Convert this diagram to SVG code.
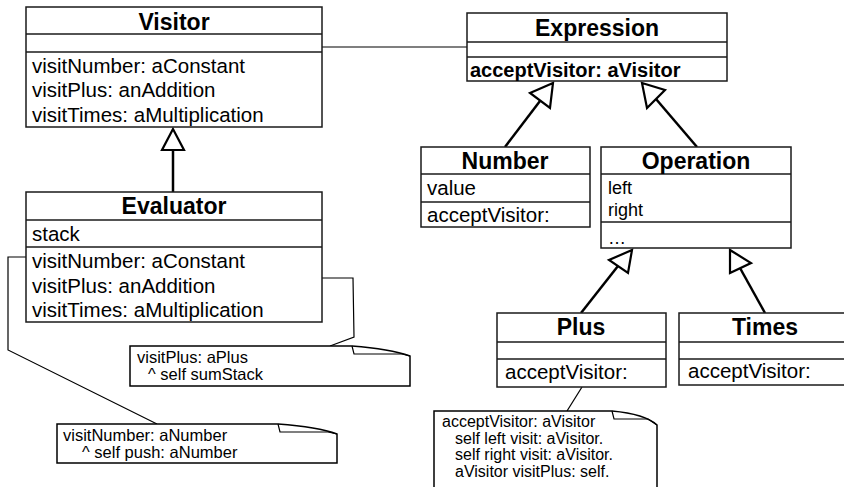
<svg xmlns="http://www.w3.org/2000/svg" width="844" height="487" viewBox="0 0 844 487">
<style>
.box{fill:#fff;stroke:#1a1a1a;stroke-width:1.5}
.div{stroke:#1a1a1a;stroke-width:1.5}
.title{font-family:"Liberation Sans",Arial,sans-serif;font-weight:bold;font-size:23px;text-anchor:middle;fill:#000}
.t{font-family:"Liberation Sans",Arial,sans-serif;font-size:20.5px;fill:#000}
.tb{font-family:"Liberation Sans",Arial,sans-serif;font-size:20px;font-weight:bold;fill:#000}
.n{font-family:"Liberation Sans",Arial,sans-serif;font-size:16.5px;fill:#000}
.n2{font-family:"Liberation Sans",Arial,sans-serif;font-size:16px;fill:#000}
.gen{fill:none;stroke:#000;stroke-width:2.5}
.tri{fill:#fff;stroke:#000;stroke-width:2.2;stroke-linejoin:miter}
.ln{fill:none;stroke:#000;stroke-width:1.2}
.note{fill:#fff;stroke:#000;stroke-width:1.5}
</style>
<g id="connectors">
<line class="ln" x1="322" y1="47" x2="467" y2="47"/>
<line class="gen" x1="173" y1="150" x2="173" y2="192"/>
<polygon class="tri" points="173,129 162,150 184,150"/>
<line class="gen" x1="540" y1="101" x2="505" y2="147"/>
<polygon class="tri" points="553,83 530,93 550,108"/>
<line class="gen" x1="656" y1="99" x2="697" y2="147"/>
<polygon class="tri" points="642,83 665,90 647,108"/>
<line class="gen" x1="618" y1="266" x2="581" y2="313"/>
<polygon class="tri" points="632,250 609,260 628,273"/>
<line class="gen" x1="740" y1="268" x2="765" y2="313"/>
<polygon class="tri" points="730,250 751,263 730,273"/>
<polyline class="ln" points="26,257 8,257 8,350 157,424"/>
<polyline class="ln" points="322,278 353,278 354,337 330,346"/>
<line class="ln" x1="582" y1="387" x2="567" y2="411"/>
</g>
<g id="Visitor">
<rect class="box" x="26" y="7" width="296" height="120"/>
<line class="div" x1="26" y1="34" x2="322" y2="34"/>
<line class="div" x1="26" y1="52" x2="322" y2="52"/>
<text class="title" x="174" y="30">Visitor</text>
<text class="t" x="32" y="73">visitNumber: aConstant</text>
<text class="t" x="32" y="97">visitPlus: anAddition</text>
<text class="t" x="32" y="122">visitTimes: aMultiplication</text>
</g>
<g id="Evaluator">
<rect class="box" x="26" y="192" width="296" height="130"/>
<line class="div" x1="26" y1="220" x2="322" y2="220"/>
<line class="div" x1="26" y1="247" x2="322" y2="247"/>
<text class="title" x="174" y="214">Evaluator</text>
<text class="t" x="32" y="241">stack</text>
<text class="t" x="32" y="268">visitNumber: aConstant</text>
<text class="t" x="32" y="293">visitPlus: anAddition</text>
<text class="t" x="32" y="317">visitTimes: aMultiplication</text>
</g>
<g id="Expression">
<rect class="box" x="467" y="13" width="260" height="68"/>
<line class="div" x1="467" y1="42" x2="727" y2="42"/>
<line class="div" x1="467" y1="57" x2="727" y2="57"/>
<text class="title" x="597" y="36">Expression</text>
<text class="tb" x="470" y="77">acceptVisitor: aVisitor</text>
</g>
<g id="Number">
<rect class="box" x="421" y="147" width="169" height="80"/>
<line class="div" x1="421" y1="174" x2="590" y2="174"/>
<line class="div" x1="421" y1="202" x2="590" y2="202"/>
<text class="title" x="505" y="169">Number</text>
<text class="t" x="427" y="195">value</text>
<text class="t" x="427" y="222">acceptVisitor:</text>
</g>
<g id="Operation">
<rect class="box" x="601" y="147" width="190" height="101"/>
<line class="div" x1="601" y1="174" x2="791" y2="174"/>
<line class="div" x1="601" y1="222" x2="791" y2="222"/>
<text class="title" x="696" y="169">Operation</text>
<text class="t" x="608" y="194" style="font-size:18px">left</text>
<text class="t" x="608" y="216" style="font-size:18px">right</text>
<text class="t" x="608" y="244" style="font-size:18px">…</text>
</g>
<g id="Plus">
<rect class="box" x="497" y="313" width="169" height="74"/>
<line class="div" x1="497" y1="342" x2="666" y2="342"/>
<line class="div" x1="497" y1="359" x2="666" y2="359"/>
<text class="title" x="581" y="335">Plus</text>
<text class="t" x="505" y="379">acceptVisitor:</text>
</g>
<g id="Times">
<rect class="box" x="679" y="313" width="172" height="72"/>
<line class="div" x1="679" y1="342" x2="851" y2="342"/>
<line class="div" x1="679" y1="359" x2="851" y2="359"/>
<text class="title" x="765" y="335">Times</text>
<text class="t" x="688" y="378">acceptVisitor:</text>
</g>
<g id="noteVisitPlus">
<path class="note" d="M130,346 L352,346 Q390,349 410,356 L410,386 L130,386 Z"/>
<path class="ln" d="M352,346 L354,354 L402,354 L410,356"/>
<text class="n" x="137" y="363">visitPlus: aPlus</text>
<text class="n" x="148" y="380">^ self sumStack</text>
</g>
<g id="noteVisitNumber">
<path class="note" d="M57,424 L278,424 Q318,427 337,434 L337,463 L57,463 Z"/>
<path class="ln" d="M278,424 L280,432 L328,432 L337,434"/>
<text class="n" x="63" y="441">visitNumber: aNumber</text>
<text class="n" x="82" y="458">^ self push: aNumber</text>
</g>
<g id="noteAccept">
<path class="note" d="M434,411 L612,411 Q645,414 657,425 L657,495 L434,495 Z"/>
<path class="ln" d="M612,411 L614,419 L648,419 L657,425"/>
<text class="n2" x="442" y="427">acceptVisitor: aVisitor</text>
<text class="n2" x="455" y="443.5">self left visit: aVisitor.</text>
<text class="n2" x="455" y="460">self right visit: aVisitor.</text>
<text class="n2" x="455" y="476.5">aVisitor visitPlus: self.</text>
</g>
</svg>
